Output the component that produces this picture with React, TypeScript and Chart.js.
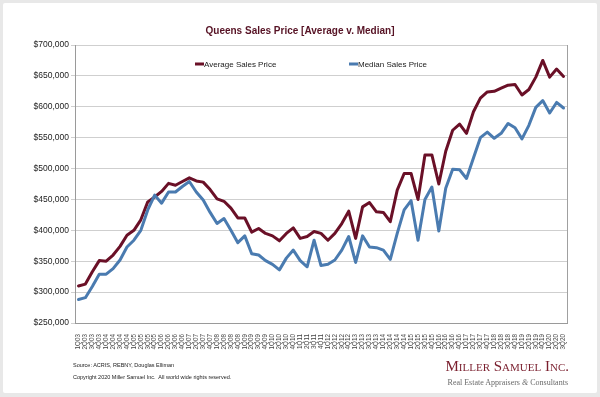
import React, { useEffect, useRef } from "react";
import { Chart, registerables } from "chart.js";

Chart.register(...registerables);

const quarters: string[] = [];
for (let y = 3; y <= 20; y++) {
  for (let q = 1; q <= 4; q++) {
    if (y === 20 && q > 3) break;
    quarters.push(`${q}Q${String(y).padStart(2, "0")}`);
  }
}

const averagePrice = [
  310000, 313000, 333000, 351000, 350000, 360000, 374000, 392000, 400000, 417000,
  446000, 454000, 463000, 476000, 473000, 479000, 485000, 480000, 478000, 466000,
  451000, 447000, 436000, 420000, 420000, 397000, 403000, 395000, 391000, 383000,
  395000, 404000, 387000, 390000, 398000, 395000, 384000, 395000, 411000, 431000,
  387000, 438000, 445000, 430000, 429000, 414000, 465000, 492000, 492000, 450000,
  522000, 522000, 475000, 528000, 562000, 572000, 557000, 592000, 614000, 624000,
  625000, 630000, 635000, 636000, 619000, 628000, 648000, 675000, 648000, 661000,
  649000,
];

const medianPrice = [
  288000, 291000, 309000, 329000, 329000, 338000, 352000, 373000, 384000, 400000,
  433000, 457000, 444000, 462000, 462000, 471000, 479000, 462000, 449000, 429000,
  411000, 419000, 400000, 380000, 391000, 362000, 360000, 351000, 345000, 336000,
  355000, 368000, 351000, 341000, 384000, 343000, 345000, 352000, 368000, 390000,
  348000, 391000, 373000, 372000, 368000, 353000, 395000, 433000, 448000, 384000,
  450000, 470000, 399000, 468000, 499000, 498000, 484000, 517000, 550000, 559000,
  549000, 557000, 573000, 566000, 548000, 570000, 599000, 610000, 590000, 607000,
  598000,
];

const seriesNames = ["Average Sales Price", "Median Sales Price"];
const seriesColors = ["#6a1027", "#4a7bb0"];
const yMin = 250000;
const yMax = 700000;
const yStep = 50000;

const LEGEND_OFFSETS = [120, 274];

const insideLegend = {
  id: "insideLegend",
  afterDraw(chart: any) {
    const { ctx, chartArea } = chart;
    ctx.save();
    chart.data.datasets.forEach((ds: any, i: number) => {
      const x = chartArea.left + LEGEND_OFFSETS[i];
      const y = chartArea.top + 19;
      ctx.fillStyle = ds.borderColor;
      ctx.fillRect(x, y - 1.5, 9, 3);
      ctx.fillStyle = "#1a1a1a";
      ctx.font = '8px "Liberation Sans", Arial, sans-serif';
      ctx.textBaseline = "middle";
      ctx.textAlign = "left";
      ctx.fillText(ds.label, x + 9, y + 0.5);
    });
    ctx.restore();
  },
};

const rightBorder = {
  id: "rightBorder",
  beforeDatasetsDraw(chart: any) {
    const { ctx, chartArea } = chart;
    ctx.save();
    ctx.strokeStyle = "#a0a0a0";
    ctx.lineWidth = 1;
    ctx.beginPath();
    ctx.moveTo(Math.round(chartArea.right) + 0.5, chartArea.top);
    ctx.lineTo(Math.round(chartArea.right) + 0.5, chartArea.bottom);
    ctx.stroke();
    ctx.restore();
  },
};

export default function App() {
  const canvasRef = useRef<HTMLCanvasElement | null>(null);

  useEffect(() => {
    if (!canvasRef.current) return;
    const chart = new Chart(canvasRef.current, {
      type: "line",
      data: {
        labels: quarters,
        datasets: [
          {
            label: seriesNames[0],
            data: averagePrice,
            borderColor: seriesColors[0],
            backgroundColor: seriesColors[0],
            borderWidth: 3,
            pointRadius: 0,
            tension: 0,
            borderJoinStyle: "round",
            borderCapStyle: "round",
            order: 1,
          },
          {
            label: seriesNames[1],
            data: medianPrice,
            borderColor: seriesColors[1],
            backgroundColor: seriesColors[1],
            borderWidth: 3,
            pointRadius: 0,
            tension: 0,
            borderJoinStyle: "round",
            borderCapStyle: "round",
            order: 0,
          },
        ],
      },
      options: {
        responsive: false,
        animation: false,
        layout: { padding: { left: 0, top: 45, right: 33, bottom: 0 } },
        plugins: {
          legend: { display: false },
          tooltip: { enabled: false },
          title: { display: false },
        },
        scales: {
          x: {
            offset: true,
            grid: { display: false },
            border: { display: true, color: "#9a9a9a" },
            ticks: {
              autoSkip: false,
              maxRotation: 90,
              minRotation: 90,
              padding: 3,
              color: "#444",
              font: { size: 6.3, family: '"Liberation Sans", Arial, sans-serif' },
            },
            afterFit(scale: any) {
              scale.height = 74;
            },
          },
          y: {
            min: yMin,
            max: yMax,
            ticks: {
              stepSize: yStep,
              padding: 2,
              color: "#222",
              font: { size: 8.5, family: '"Liberation Sans", Arial, sans-serif' },
              callback: (v: any) => "$" + Number(v).toLocaleString("en-US"),
            },
            grid: { color: "#cfcfcf", tickLength: 4, drawTicks: true },
            border: { display: true, color: "#9a9a9a" },
            afterFit(scale: any) {
              scale.width = 75;
            },
          },
        },
      },
      plugins: [insideLegend, rightBorder],
    });
    return () => chart.destroy();
  }, []);

  return (
    <div
      style={{
        position: "fixed",
        left: 0,
        top: 0,
        width: 600,
        height: 397,
        background: "#e8e8e8",
        overflow: "hidden",
      }}
    >
      <div
        style={{
          position: "absolute",
          left: 3,
          top: 3,
          width: 594,
          height: 390,
          background: "#ffffff",
          borderRadius: 2,
        }}
      />
      <canvas
        ref={canvasRef}
        width={600}
        height={397}
        style={{ position: "absolute", left: 0, top: 0, width: 600, height: 397 }}
      />
      <div
        style={{
          position: "absolute",
          left: 0,
          top: 24,
          width: 600,
          textAlign: "center",
          fontFamily: '"Liberation Sans", Arial, sans-serif',
          fontWeight: "bold",
          fontSize: 10,
          lineHeight: "13px",
          color: "#561224",
        }}
      >
        Queens Sales Price [Average v. Median]
      </div>
      <div
        style={{
          position: "absolute",
          left: 73,
          top: 361,
          fontFamily: '"Liberation Sans", Arial, sans-serif',
          fontSize: 5.5,
          lineHeight: "8px",
          color: "#222",
          whiteSpace: "nowrap",
        }}
      >
        Source: ACRIS, REBNY, Douglas Elliman
      </div>
      <div
        style={{
          position: "absolute",
          left: 73,
          top: 373,
          fontFamily: '"Liberation Sans", Arial, sans-serif',
          fontSize: 5.5,
          lineHeight: "8px",
          color: "#222",
          whiteSpace: "nowrap",
        }}
      >
        Copyright 2020 Miller Samuel Inc.&nbsp; All world wide rights reserved.
      </div>
      <div
        style={{
          position: "absolute",
          right: 31,
          top: 357,
          fontFamily: '"Liberation Serif", "Times New Roman", serif',
          fontVariant: "small-caps",
          fontSize: 15,
          lineHeight: "18px",
          color: "#7a1f2e",
          whiteSpace: "nowrap",
        }}
      >
        Miller Samuel Inc.
      </div>
      <div
        style={{
          position: "absolute",
          right: 32,
          top: 378,
          fontFamily: '"Liberation Serif", "Times New Roman", serif',
          fontSize: 8,
          lineHeight: "10px",
          color: "#6a6a6a",
          whiteSpace: "nowrap",
        }}
      >
        Real Estate Appraisers <i>&amp;</i> Consultants
      </div>
    </div>
  );
}
